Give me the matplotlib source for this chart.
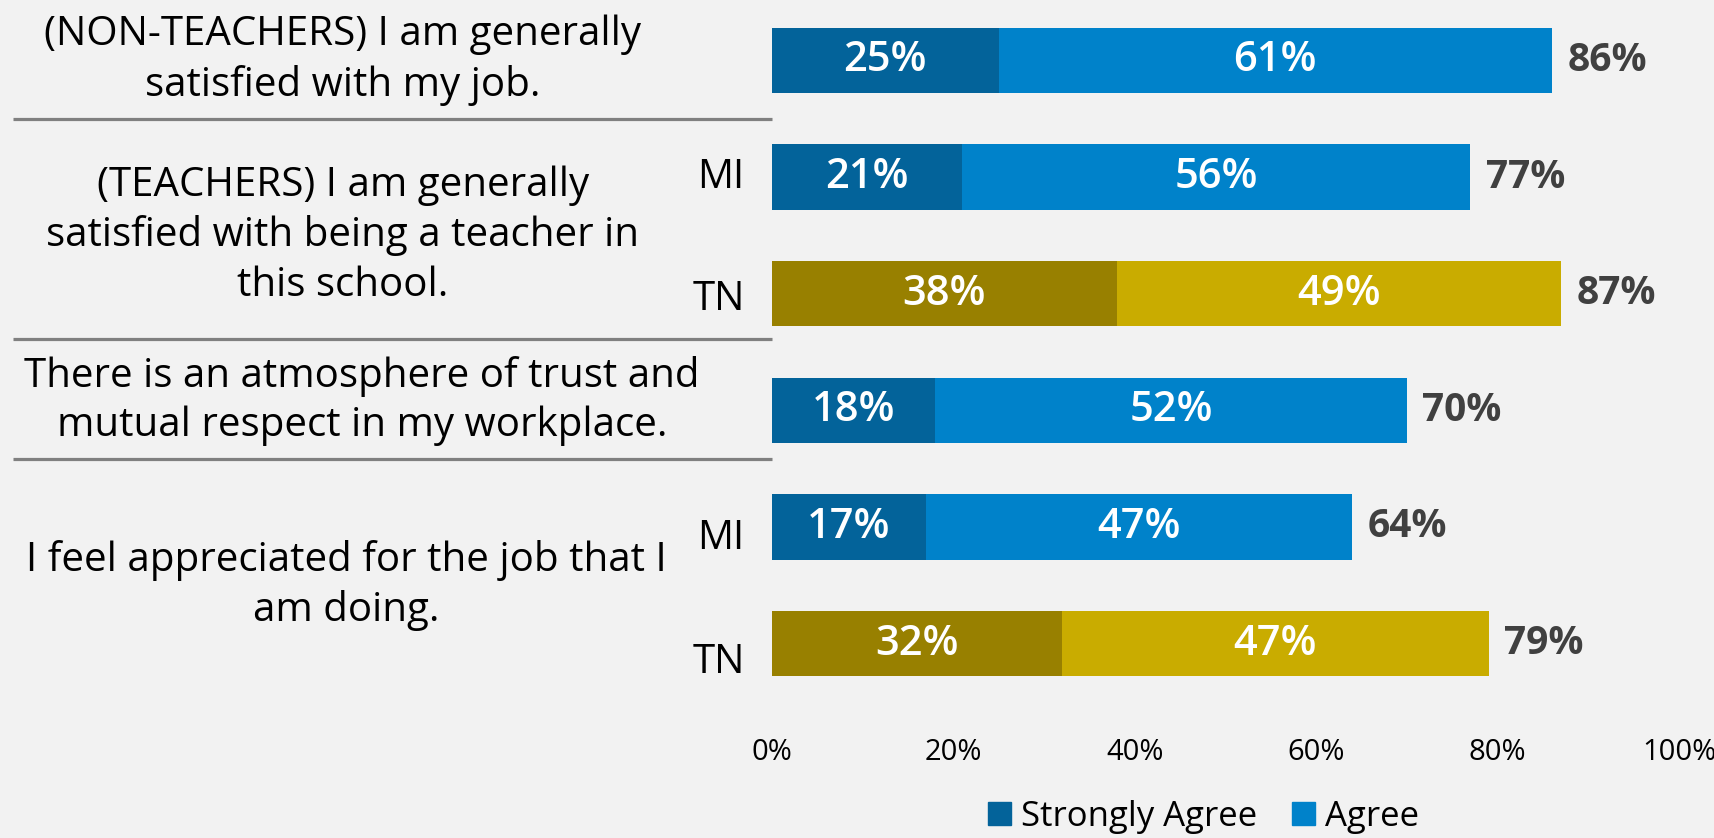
"""Stacked horizontal bars: job satisfaction / trust / appreciation, MI vs TN."""

import matplotlib.pyplot as plt
import matplotlib.transforms as mtransforms
from matplotlib.patches import Patch

plt.rcParams["font.family"] = ["Open Sans", "DejaVu Sans"]

# one entry per bar, top to bottom
statements = [
    "(NON-TEACHERS) I am generally\nsatisfied with my job.",
    "(TEACHERS) I am generally\nsatisfied with being a teacher in\nthis school.",
    "There is an atmosphere of trust and\nmutual respect in my workplace.",
    "I feel appreciated for the job that I\nam doing.",
]
bar_statement = [0, 1, 1, 2, 3, 3]
row_labels = ["", "MI", "TN", "", "MI", "TN"]
states = ["MI", "MI", "TN", "MI", "MI", "TN"]
strongly_agree = [25, 21, 38, 18, 17, 32]
agree = [61, 56, 49, 52, 47, 47]
series_names = ["Strongly Agree", "Agree"]
xticks = [0, 20, 40, 60, 80, 100]

palette = {
    "MI": ("#03639A", "#0082CA"),
    "TN": ("#988000", "#C9AC00"),
}
bg = "#F2F2F2"

fig = plt.figure(figsize=(17.15, 8.38), dpi=100, facecolor=bg)
ax = fig.add_axes([0.4501, 0.1623, 0.5289, 0.8353])
ax.set_facecolor(bg)

y = list(range(len(strongly_agree)))
dark = [palette[s][0] for s in states]
light = [palette[s][1] for s in states]
ax.barh(y, strongly_agree, height=0.56, color=dark)
ax.barh(y, agree, left=strongly_agree, height=0.56, color=light)

# small downward nudges for the MI / TN labels
row_dy = [0, 0.01, 0.05, 0, 0.1, 0.16]
for i in y:
    sa, ag = strongly_agree[i], agree[i]
    ax.text(sa / 2, i, f"{sa}%", ha="center", va="center",
            color="white", fontsize=30, fontweight="semibold")
    ax.text(sa + ag / 2, i, f"{ag}%", ha="center", va="center",
            color="white", fontsize=30, fontweight="semibold")
    ax.annotate(f"{sa + ag}%", (sa + ag, i), xytext=(11, 0),
                textcoords="offset points", ha="left", va="center",
                color="#404040", fontsize=28, fontweight="bold")
    if row_labels[i]:
        ax.text(-3, i + row_dy[i], row_labels[i], ha="right", va="center",
                fontsize=29, color="black")

ax.set_xlim(0, 100)
ax.set_ylim(5.5, -0.5)
ax.set_xticks(xticks)
ax.set_xticklabels([f"{t}%" for t in xticks], fontsize=21)
ax.set_yticks([])
ax.tick_params(axis="x", length=0, pad=26)
for spine in ax.spines.values():
    spine.set_visible(False)

# statement text, centred on its block of bars
text_tr = mtransforms.blended_transform_factory(fig.transFigure, ax.transData)
text_x = [343, 343, 362, 346]
text_dy = [0, 0, -0.08, 0]
for k, s in enumerate(statements):
    rows = [i for i, g in enumerate(bar_statement) if g == k]
    yc = sum(rows) / len(rows) + text_dy[k]
    ax.text(text_x[k] / 1715, yc, s, ha="center", va="center",
            fontsize=29, linespacing=1.3, transform=text_tr)

# grey rules between statements
for ys in [0.5, 2.39, 3.42]:
    ax.plot([13 / 1715, 0.4501], [ys, ys], color="#808080", lw=2.3,
            transform=text_tr, clip_on=False, solid_capstyle="butt")

handles = [Patch(color=palette["MI"][0]), Patch(color=palette["MI"][1])]
fig.legend(handles, series_names, loc="center", bbox_to_anchor=(0.702, 0.025),
           ncol=2, frameon=False, fontsize=25, handlelength=0.65, handleheight=0.65,
           handletextpad=0.3, columnspacing=1.0)

fig.savefig("out.png", dpi=100, facecolor=bg)
